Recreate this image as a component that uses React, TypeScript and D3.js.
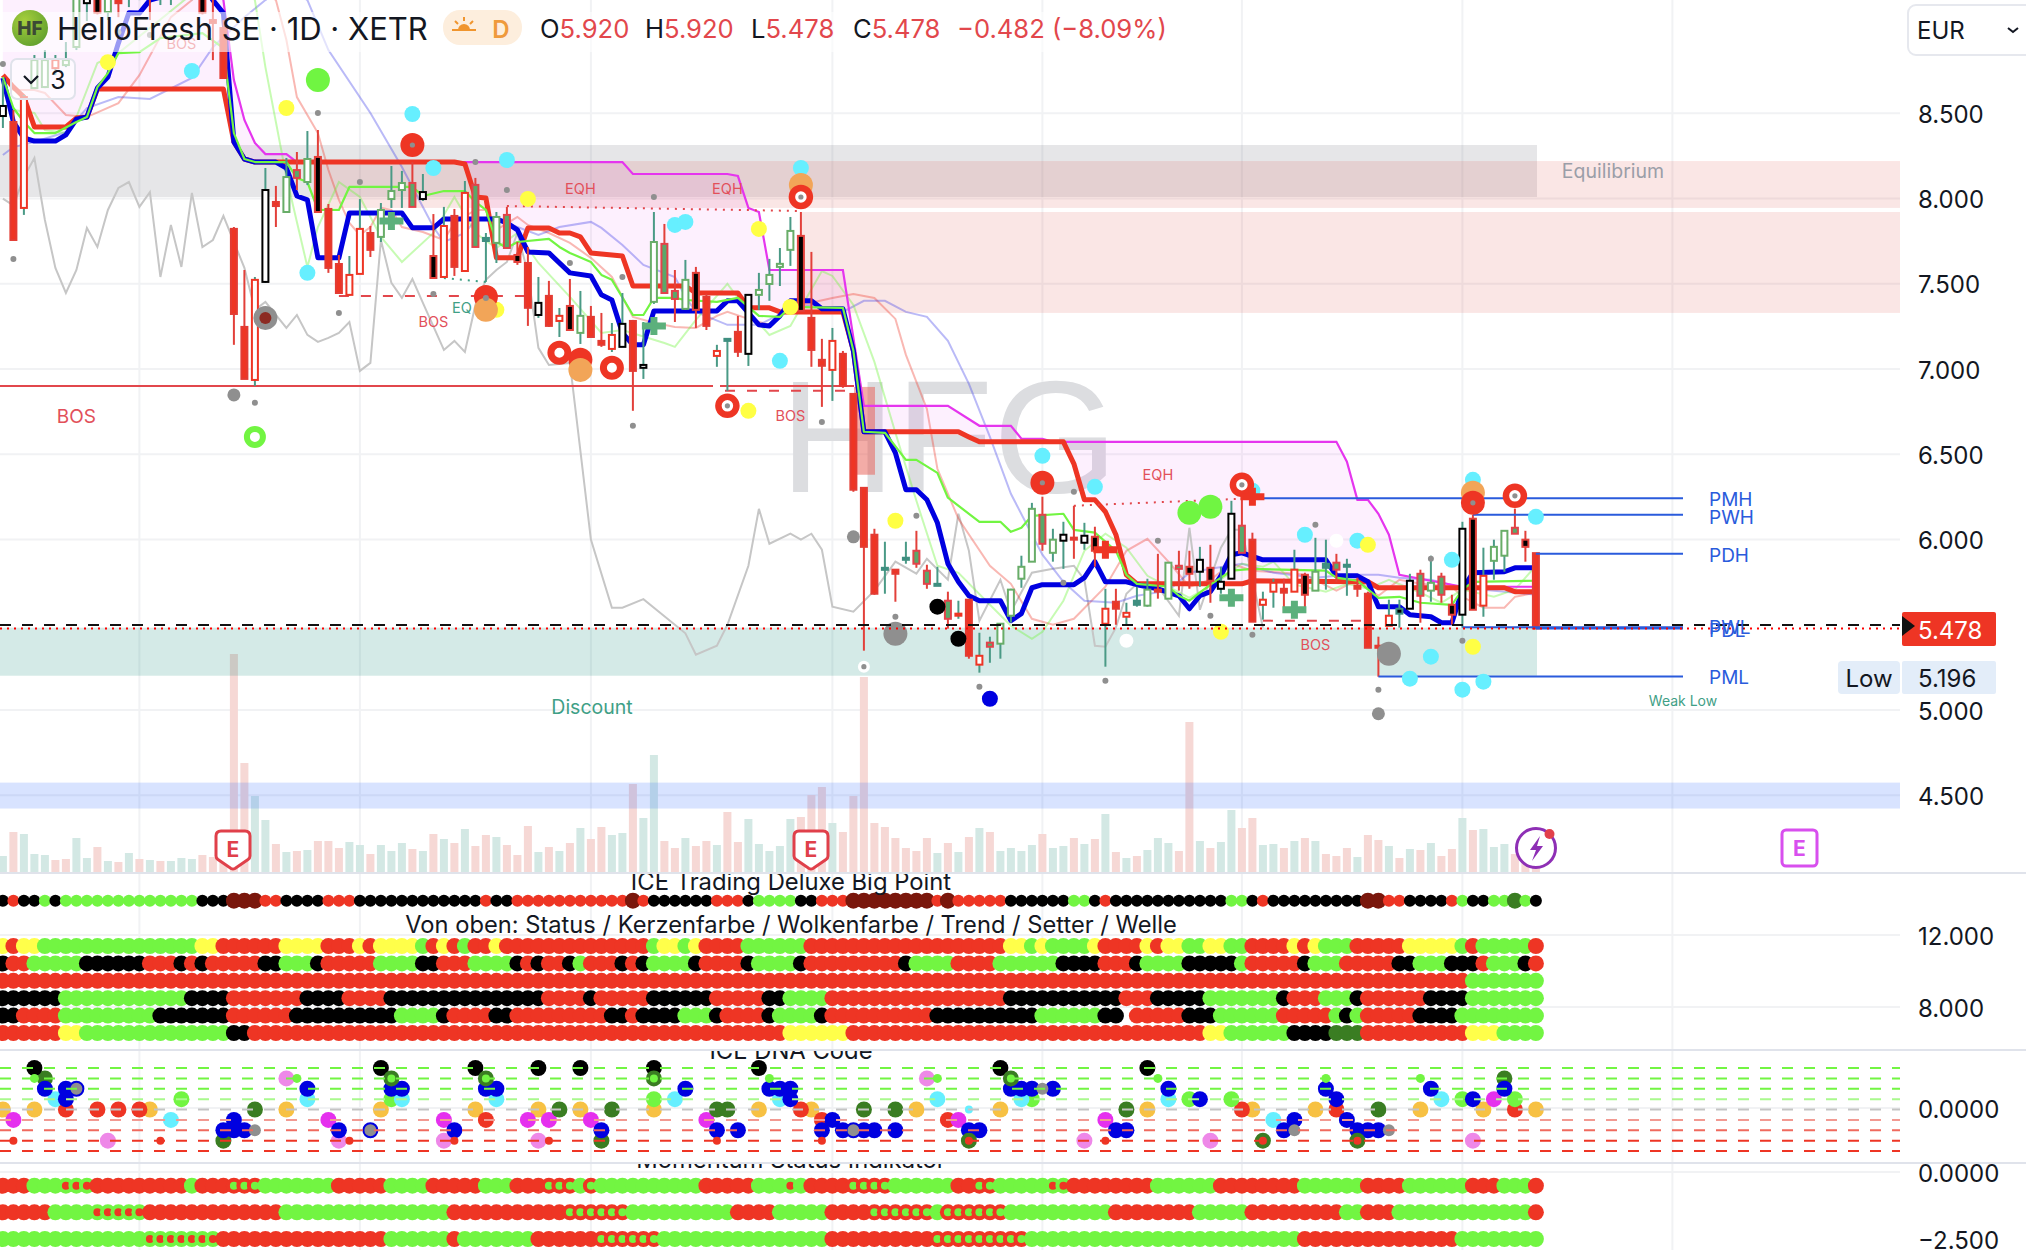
import React from "react";
import * as d3 from "d3";

// ---------- price candles ----------
const candleKinds =
  "wrhgghggwk" + "grghGgwhgk" + "rrrrhwrgGg" + "krrhhrgggG" + "wkhrhGtgGk" +
  "rwrhkgrrhw" + "rwgGGgkrht" + "rwggggkrrh" + "rrrrtrtGGt" + "GxrhyggggG" +
  "gwrwkhrhtg" + "rgGkwkwwGr" + "hhrhkgtGtr" + "rrhbwGgGkw" + "khggGkr";
const highs = [
  8.695,8.519,8.607,8.842,8.871,8.842,8.918,9.28,9.28,9.28,
  9.28,9.28,9.34,9.34,9.34,9.34,9.34,9.34,9.34,9.28,
  9.22,9.047,7.833,7.581,7.54,8.179,8.074,8.238,8.273,8.396,
  8.402,7.968,7.669,7.663,7.997,7.839,7.974,8.191,8.162,8.214,
  8.144,7.909,7.951,7.939,8.103,8.121,7.798,7.921,7.951,7.745,
  7.716,7.54,7.517,7.358,7.528,7.458,7.37,7.329,7.27,7.446,
  7.288,7.276,7.921,7.851,7.581,7.64,7.599,7.441,7.142,7.171,
  7.312,7.435,7.564,7.646,7.71,7.892,7.921,7.687,7.177,7.241,
  7.106,6.854,6.303,6.063,5.987,5.823,5.987,6.051,5.852,5.84,
  5.694,5.641,5.647,5.453,5.43,5.506,5.711,5.905,6.215,6.251,
  6.063,6.104,6.198,6.098,6.075,5.711,5.711,5.629,5.723,5.77,
  5.916,5.864,5.934,5.934,5.957,5.969,5.84,6.227,6.245,6.04,
  5.694,5.77,5.77,5.94,5.805,6.01,5.999,5.916,5.887,5.776,
  5.694,5.43,5.647,5.647,5.799,5.823,5.905,5.805,5.676,6.104,
  6.145,5.952,5.999,6.051,6.181,6.051,5.92,
];
const bodyTops = [
  8.543,8.449,8.595,8.812,8.812,8.812,8.812,9.25,9.193,9.22,
  9.22,9.22,9.28,9.28,9.28,9.28,9.28,9.28,9.28,9.22,
  9.047,9.0,7.822,7.247,7.523,8.05,7.98,8.126,8.167,8.232,
  8.244,7.939,7.616,7.552,7.822,7.798,7.933,8.044,8.091,8.091,
  8.038,7.663,7.839,7.898,8.033,8.08,7.769,7.892,7.904,7.669,
  7.622,7.388,7.429,7.312,7.37,7.312,7.306,7.165,7.2,7.265,
  7.282,7.024,7.745,7.734,7.458,7.523,7.564,7.423,7.106,7.177,
  7.218,7.435,7.464,7.552,7.617,7.81,7.781,7.3,7.054,7.165,
  7.089,6.854,6.303,6.028,5.834,5.823,5.893,5.934,5.817,5.74,
  5.641,5.565,5.647,5.318,5.395,5.506,5.706,5.84,6.18,6.145,
  5.999,6.028,6.011,6.022,6.016,5.594,5.635,5.57,5.641,5.706,
  5.706,5.864,5.846,5.84,5.881,5.834,5.752,6.151,6.081,5.999,
  5.647,5.746,5.711,5.823,5.793,5.811,5.858,5.864,5.852,5.729,
  5.682,5.377,5.553,5.594,5.758,5.799,5.746,5.782,5.617,6.063,
  6.122,5.787,5.957,6.051,6.069,5.999,5.92,
];
const bodyBottoms = [
  8.484,7.757,7.945,8.648,8.654,8.765,8.783,8.889,9.146,9.09,
  9.094,9.146,9.193,9.21,9.176,9.193,9.21,9.22,9.22,9.09,
  9.03,8.707,7.323,6.942,6.936,7.511,7.956,7.921,8.121,8.097,
  7.921,7.593,7.446,7.435,7.558,7.699,7.775,7.997,8.05,7.951,
  7.997,7.534,7.54,7.599,7.575,7.716,7.751,7.74,7.71,7.628,
  7.359,7.317,7.253,7.282,7.229,7.212,7.188,7.142,7.118,7.13,
  6.989,7.007,7.394,7.446,7.411,7.353,7.347,7.253,7.077,7.165,
  7.101,7.089,7.435,7.499,7.599,7.699,7.341,7.112,7.019,6.995,
  6.901,6.292,5.957,5.682,5.823,5.799,5.881,5.858,5.74,5.729,
  5.535,5.553,5.318,5.266,5.371,5.389,5.553,5.77,5.87,5.975,
  5.922,5.993,5.999,5.981,5.934,5.506,5.594,5.547,5.617,5.612,
  5.694,5.653,5.828,5.799,5.811,5.758,5.711,5.77,5.922,5.518,
  5.617,5.694,5.688,5.694,5.676,5.7,5.834,5.823,5.84,5.711,
  5.365,5.365,5.494,5.565,5.594,5.67,5.7,5.676,5.559,5.559,
  5.588,5.612,5.875,5.905,6.034,5.957,5.478,
];
const lows = [
  8.414,7.757,7.904,8.648,8.648,8.724,8.771,8.871,9.041,9.08,
  9.047,9.064,9.123,9.164,9.047,9.135,9.135,9.164,9.164,9.08,
  8.812,8.707,7.142,6.942,6.901,7.505,7.833,7.921,8.05,8.079,
  7.921,7.564,7.446,7.429,7.558,7.657,7.745,7.945,7.945,7.951,
  7.986,7.534,7.54,7.546,7.575,7.716,7.511,7.622,7.71,7.611,
  7.253,7.3,7.247,7.188,7.229,7.147,7.188,7.13,7.1,7.13,
  6.755,6.942,7.382,7.446,7.276,7.347,7.241,7.229,7.013,6.872,
  7.071,7.018,7.347,7.4,7.487,7.605,7.341,7.013,6.778,6.813,
  6.89,6.28,5.348,5.676,5.682,5.635,5.858,5.834,5.711,5.729,
  5.477,5.535,5.301,5.219,5.277,5.301,5.512,5.717,5.87,5.934,
  5.87,5.828,5.887,5.94,5.84,5.254,5.5,5.494,5.606,5.606,
  5.653,5.653,5.7,5.711,5.723,5.629,5.682,5.77,5.922,5.518,
  5.53,5.6,5.57,5.694,5.576,5.7,5.706,5.752,5.67,5.664,
  5.365,5.195,5.494,5.483,5.594,5.512,5.635,5.629,5.5,5.483,
  5.588,5.547,5.764,5.811,6.034,5.87,5.478,
];

// ---------- volume ----------
const volumes = [
  16,40,38,18,17,12,13,34,14,25, 11,10,19,13,12,11,11,14,13,17,
  15,17,218,109,76,52,28,20,21,22, 31,31,24,30,27,18,27,21,29,23,
  21,38,33,29,43,26,37,35,27,17, 46,20,25,21,29,44,33,45,37,39,
  88,54,117,31,24,34,26,31,27,60, 30,53,28,21,26,53,55,77,85,49,
  40,76,195,49,45,34,24,21,34,19, 29,20,35,44,40,21,24,21,27,38,
  24,26,34,28,33,58,20,14,16,22, 34,29,21,150,31,24,30,62,44,54,
  27,28,24,31,34,31,18,16,24,15, 37,32,26,14,23,22,29,16,23,54,
  42,43,25,28,18,14,10,
];
const volumeSides =
  "grgggrrggr" + "grgrgrgggr" + "rrrrggrgrg" + "rrrggrgggr" + "grgrgrrgrr" +
  "rgrgrgrrgg" + "rggrrgrrgr" + "rgggggrrrg" + "rrrrrrrrrg" + "rgrgrggggr" +
  "ggrgrgrgrg" + "ggrrgrggrr" + "ggrgrgrrrg" + "rrgrgrgrrg" + "rgggrrr";

// ---------- overlay lines: bar index / price pairs ----------
const blueBars = [0,1,2,3,5,6,7,8,9,10,11,12,13,14,19,20,21,22,23,24,26,27,28,29,30,32,33,38,39,41,42,47,48,49,50,52,54,56,57,58,59,60,61,62,65,68,69,70,72,73,74,75,77,78,80,81,82,84,85,86,87,88,89,90,91,92,93,95,96,97,98,99,102,103,104,105,107,108,110,112,113,114,115,116,117,118,120,126,127,129,130,131,133,134,136,137,138,139,140,143,144,146];
const blueValues = [8.707,8.449,8.355,8.337,8.337,8.373,8.466,8.478,8.648,8.713,8.912,9.09,9.088,9.164,9.25,9.164,9.088,8.332,8.232,8.214,8.214,8.179,8.015,7.992,7.652,7.652,7.915,7.915,7.828,7.828,7.88,7.88,7.857,7.816,7.687,7.681,7.564,7.546,7.435,7.405,7.212,7.142,7.142,7.341,7.341,7.341,7.4,7.4,7.259,7.253,7.312,7.4,7.4,7.353,7.353,7.107,6.632,6.632,6.508,6.292,6.292,6.233,6.098,5.858,5.752,5.67,5.641,5.641,5.524,5.565,5.717,5.735,5.735,5.776,5.87,5.752,5.752,5.735,5.711,5.67,5.594,5.67,5.694,5.787,5.911,5.922,5.881,5.881,5.787,5.787,5.752,5.606,5.606,5.559,5.547,5.512,5.512,5.706,5.805,5.811,5.834,5.834];
const redBars = [0,1,2,3,6,7,8,9,21,22,23,24,43,44,45,46,47,49,50,52,53,54,55,56,59,60,65,66,70,71,73,74,80,81,82,91,92,93,101,102,103,104,105,106,107,108,118,119,129,130,131,143,144,146];
const redValues = [8.724,8.654,8.595,8.42,8.42,8.472,8.478,8.642,8.642,8.332,8.232,8.214,8.214,8.203,8.009,8.003,7.652,7.652,7.827,7.827,7.798,7.798,7.775,7.681,7.663,7.487,7.487,7.446,7.446,7.359,7.359,7.335,7.335,7.107,6.632,6.632,6.602,6.573,6.573,6.444,6.233,6.233,6.163,6.028,5.793,5.74,5.74,5.758,5.752,5.752,5.717,5.717,5.694,5.694];
const greenBars = [0,1,2,3,5,7,8,9,10,11,13,15,19,21,22,23,24,27,28,29,30,32,33,39,40,42,44,45,46,47,48,49,52,53,54,56,57,58,60,61,62,64,65,68,70,72,74,75,80,81,82,84,86,87,89,90,93,95,96,97,98,101,102,104,106,107,108,111,112,113,115,117,119,126,127,129,131,133,135,138,139,140,146];
const greenValues = [8.713,8.531,8.449,8.384,8.384,8.449,8.478,8.654,8.736,8.853,8.859,8.941,8.97,8.883,8.384,8.232,8.214,8.214,8.121,8.097,7.933,7.933,8.068,8.068,8.015,8.044,8.044,7.98,7.933,7.745,7.71,7.745,7.763,7.716,7.681,7.628,7.552,7.523,7.317,7.317,7.417,7.417,7.405,7.394,7.417,7.312,7.306,7.364,7.359,7.107,6.632,6.626,6.467,6.467,6.391,6.245,6.104,6.104,6.045,6.069,6.139,6.151,6.057,6.04,5.934,5.793,5.74,5.723,5.67,5.641,5.735,5.817,5.828,5.817,5.776,5.758,5.658,5.664,5.629,5.617,5.706,5.752,5.758];
const magentaBars = [0,20,21,22,23,24,25,27,28,59,60,69,70,71,72,73,80,82,90,93,96,97,99,100,127,128,129,130,131,132,133,139,146];
const magentaValues = [9.4,9.4,9.164,8.695,8.461,8.326,8.261,8.261,8.214,8.214,8.144,8.144,8.132,7.945,7.921,7.581,7.581,6.784,6.784,6.667,6.667,6.591,6.591,6.573,6.573,6.456,6.233,6.233,6.151,6.028,5.793,5.723,5.723];
const paleRedBars = [0,1,3,4,6,8,11,13,16,18,21,26,27,28,30,31,32,33,34,35,36,37,38,40,42,43,45,46,47,49,50,52,54,56,58,59,60,62,64,66,68,69,71,73,74,76,79,81,83,85,86,88,89,91,94,96,98,100,102,105,107,109,111,113,115,117,119,122,124,127,129,131,133,135,138,139,141,143,144,146];
const paleRedValues = [8.713,8.636,8.636,8.619,8.49,8.478,8.56,8.724,9.064,9.164,9.4,9.164,8.93,8.595,8.384,8.167,7.992,7.857,7.786,7.833,7.945,7.933,7.833,7.804,7.757,7.857,7.933,7.933,7.816,7.892,7.845,7.798,7.74,7.652,7.54,7.423,7.306,7.271,7.247,7.241,7.312,7.335,7.294,7.259,7.312,7.376,7.417,7.44,7.417,7.294,7.083,6.766,6.415,6.122,5.846,5.74,5.535,5.5,5.535,5.723,5.934,6.004,5.87,5.723,5.764,5.858,5.817,5.805,5.793,5.7,5.764,5.67,5.764,5.74,5.723,5.664,5.6,5.6,5.664,5.688];
const paleBlueBars = [0,1,3,6,8,11,14,18,20,23,25,27,29,31,35,38,41,42,44,45,47,49,51,53,56,57,59,61,64,65,66,69,72,75,77,80,82,84,86,88,90,92,94,96,99,101,103,106,108,111,113,115,118,121,125,128,131,133,136,139,146];
const paleBlueValues = [8.255,8.302,8.332,8.39,8.531,8.595,8.584,8.707,8.888,9.064,9.164,9.25,9.164,8.871,8.502,8.185,7.833,7.745,7.798,7.874,7.874,7.833,7.786,7.833,7.863,7.828,7.728,7.611,7.54,7.423,7.335,7.259,7.259,7.353,7.376,7.335,7.4,7.4,7.335,7.306,7.165,6.913,6.602,6.268,5.911,5.752,5.641,5.629,5.67,5.7,5.805,5.828,5.858,5.805,5.776,5.793,5.793,5.776,5.764,5.717,5.676];
const paleGreenBars = [0,1,3,4,6,7,9,11,15,19,22,24,25,27,29,30,32,34,36,38,41,43,45,47,49,51,54,57,59,63,64,66,69,71,73,75,78,79,81,83,85,87,89,91,94,96,98,99,101,103,105,107,109,111,113,116,118,120,121,123,126,128,130,132,135,137,139,142,144,146];
const paleGreenValues = [8.625,8.519,8.502,8.402,8.384,8.478,8.795,8.853,9.05,9.25,9.3,9.164,8.771,8.126,7.599,7.833,8.097,8.009,7.775,7.628,7.798,8.009,7.798,7.71,7.798,7.622,7.423,7.212,7.229,7.153,7.13,7.288,7.499,7.335,7.2,7.253,7.575,7.546,7.376,7.042,6.626,6.227,5.846,5.805,5.617,5.494,5.418,5.459,5.641,5.934,6.034,5.952,5.787,5.723,5.658,5.764,5.858,5.84,5.87,5.735,5.694,5.74,5.711,5.764,5.688,5.629,5.706,5.664,5.706,5.846];
const grayBars = [0,1,2,3,4,5,6,7,8,9,10,11,12,13,14,15,16,17,18,19,20,21,23,24,25,27,28,29,30,31,32,33,34,35,36,37,38,39,40,42,43,44,45,46,47,48,49,50,51,52,54,55,56,58,59,61,63,65,66,68,69,71,72,73,75,76,77,78,79,81,83,85,87,88,90,91,92,93,95,96,98,100,102,103,104,105,106,107,108,110,112,113,114,116,117,118,120];
const grayValues = [8.0,7.96,8.126,8.238,7.874,7.593,7.446,7.581,7.827,7.716,7.933,8.062,8.097,7.951,8.038,7.54,7.845,7.599,8.033,7.716,7.757,7.898,7.593,7.347,7.394,7.241,7.317,7.2,7.159,7.183,7.212,7.276,6.989,7.036,7.757,7.505,7.417,7.528,7.388,7.112,7.165,7.1,7.376,7.523,7.581,7.628,7.798,7.564,7.124,7.024,7.036,6.52,6.0,5.6,5.6,5.65,5.55,5.45,5.325,5.377,5.5,5.846,6.18,5.975,6.034,6.0,6.034,5.94,5.606,5.577,5.7,5.87,5.8,5.887,5.764,6.151,5.934,5.524,5.764,5.577,5.805,5.828,5.846,5.764,5.377,5.371,5.483,5.682,5.74,5.723,5.553,6.069,5.588,5.952,6.057,6.057,5.483];

// ---------- chart markers: [bar, price] ----------
const grayDots = [[0,8.789],[1,7.646],[11,8.976],[14,8.959],[30,8.502],[32,7.329],[24,6.802],[34,8.097],[45,8.214],[48,8.05],[62,8.009],[41,7.44],[54,7.622],[59,7.54],[60,6.667],[78,6.69],[87,6.139],[85,5.547],[93,5.137],[102,6.28],[101,5.746],[110,5.993],[115,5.553],[119,5.442],[125,6.086],[105,5.172],[136,5.887],[139,5.406],[131,5.119]];
const grayMedium = [[22,6.848],[81,6.016],[131,4.978]];
const grayLarge = [[25,7.3],[85,5.447],[132,5.33]];
const cyanDots = [[18,8.748],[29,7.564],[39,8.496],[41,8.179],[48,8.226],[64,7.845],[65,7.863],[76,8.179],[74,7.048],[99,6.491],[104,6.309],[124,6.028],[129,5.993],[119,6.286],[138,5.881],[136,5.313],[134,5.184],[139,5.119],[141,5.166],[140,6.35],[146,6.133]];
const yellowDots = [[10,8.8],[27,8.531],[50,7.998],[47,7.347],[72,7.822],[75,7.364],[71,6.755],[85,6.11],[116,5.459],[130,5.969],[140,5.371]];
const greenBig = [[30,8.695],[113,6.157],[115,6.192]];
const whiteDots = [[127,5.993],[107,5.406]];
const blackDots = [[89,5.606],[91,5.418]];
const blueDots = [[94,5.066]];
const redBehind = [[55,7.054],[46,7.423]];
const orangeDots = [[55,6.995],[46,7.347],[76,8.079],[140,6.274]];
const redCored = [[39,8.314],[99,6.333],[140,6.215]];
const targets = [[76,8.009],[69,6.784],[118,6.321],[144,6.256]];
const redRings = [[53,7.095],[58,7.007]];
const greenPlus = [[62,7.253],[37,7.868],[117,5.658],[123,5.588]];
const redPlus = [[105,5.94],[119,6.251]];

// ---------- zones and levels ----------
const priceTicks = [8.5,8,7.5,7,6.5,6,5,4.5];
const dateBars = [13,34,56,79,99,118,139,159];
const blueLevels = [
  { name: "PMH", from: 118, price: 6.242, labelPrice: 6.236 },
  { name: "PWH", from: 140, price: 6.145, labelPrice: 6.128 },
  { name: "PDH", from: 146, price: 5.916, labelPrice: 5.906 },
  { name: "PWL", from: 139, price: 5.485, labelPrice: 5.482 },
  { name: "PDL", from: 146, price: 5.478, labelPrice: 5.464 },
  { name: "PML", from: 131, price: 5.196, labelPrice: 5.19 },
];
const bosLabels = [[7,6.72],[17,8.91],[41,7.28],[75,6.73],[125,5.383]];
const eqhLabels = [[55,8.06],[69,8.06],[110,6.38]];

// ---------- indicator rows, run-length coded: colour letter + count ----------
const bigPointRuns = "k1 r1 k2 g1 k1 g13 k3 d3 r2 k4 r3 k12 r1 k2 r11 d1 r1 k6 r3 k1 g4 k2 r3 d8 r1 d1 r5 k6 g2 k1 r1 k11 g2 k1 r1 k9 d2 r2 k4 r1 g1 k2 g2 D1 g1 k1";
const statusRuns = [
  "y1 r1 y2 g15 y2 r6 y4 r3 y1 r1 y4 g1 r1 y1 r1 g1 r2 y1 r14 g1 y2 g1 y1 r4 g6 r19 y2 g1 y1 g4 y1 r4 y1 r1 y2 g2 y2 g2 r4 y1 r1 y1 g3 r5 y5 g1 r1 g5 r1",
  "k1 r2 g5 k6 r3 k1 r1 k1 r5 k2 g3 k1 r5 g4 k2 r3 g4 k1 r1 k1 r2 k1 g1 r3 k1 r1 k1 g4 k1 r4 k1 g4 k1 r9 k1 g4 r4 g6 k4 r3 k1 g4 k5 g1 r5 k1 g3 r5 k2 g3 k3 r1 g3 k1 r1",
  "r140 g7",
  "k6 g12 k4 r7 k4 r4 k15 r4 k1 r5 k6 r5 k2 g4 r17 k11 r3 k5 g7 k1 r3 g3 k1 r6 k4 g7",
  "k2 r4 g9 k7 r6 k10 g4 k1 r4 k2 r9 k2 r1 k4 g3 k1 r4 k1 g4 k1 r10 k10 g6 k2 n1 r5 k3 g6 r5 g1 k1 g1 r5 k4 g8",
  "r6 y2 g14 k2 r51 y6 r34 y2 g6 k4 D3 r10 y3 g4",
];
const momentumRuns = [
  "r3 g3 a3 r9 g1 r3 b3 g7 r5 g4 r5 g3 r3 b3 g1 b1 g10 r5 g3 a1 g1 r4 b4 g6 r2 b2 g5 a2 r8 g6 r8 g6 r4 g6 r3 g3 r1",
  "r5 g4 a5 r13 g16 r11 b6 g10 r4 g5 r4 b6 g1 b6 g10 r8 g5 r9 g2 r3 g13 r1",
  "g14 a7 r16 g6 r1 g7 r6 b6 g16 r10 b9 g26 r15 g8",
];

// ---------- DNA code dots: [bar, level] ----------
const dnaLevels = [4,3,2,1,0,-1,-2,-3,-4];
const dnaOrange = [[0,0],[3,0],[14,0],[27,0],[36,0],[45,0],[51,0],[55,0],[62,0],[72,0],[77,0],[87,0],[95,0],[109,0],[119,0],[125,0],[135,0],[141,0],[146,0]];
const dnaMagenta = [[1,-1],[31,-1],[42,-1],[50,-1],[52,-1],[56,-1],[67,-1],[91,-1],[105,-1],[142,1]];
const dnaViolet = [[10,-3],[27,3],[32,-3],[42,-3],[51,-3],[88,3],[103,-3],[115,-3],[140,-3]];
const dnaBlack = [[3,4],[36,4],[45,4],[51,4],[55,4],[62,4],[72,4],[95,4],[109,4]];
const dnaDarkGreen = [[4,3],[21,-3],[24,0],[53,0],[57,-3],[58,0],[68,0],[69,0],[82,0],[85,0],[107,0],[131,0],[143,3]];
const dnaRinged = [[37,3],[46,3],[62,3],[96,3]];
const dnaRingedRed = [[92,-3],[120,-3],[129,-3]];
const dnaBlue = [[4,2],[6,2],[6,1],[22,-1],[21,-2],[22,-2],[23,-2],[29,2],[32,-2],[37,2],[38,2],[43,-2],[46,2],[47,2],[57,-2],[65,2],[68,-2],[70,-2],[73,2],[74,2],[75,2],[75,1],[79,-1],[78,-2],[80,-2],[82,-2],[83,-2],[85,-2],[92,-2],[93,-2],[96,2],[97,2],[98,2],[100,2],[106,-2],[107,-2],[111,2],[114,1],[122,-2],[123,-1],[126,2],[127,1],[128,-1],[129,-2],[130,-2],[131,-2],[136,2],[140,1],[143,2]];
const dnaCyan = [[5,1],[16,-1],[29,1],[38,1],[47,1],[64,1],[74,1],[89,1],[97,1],[111,1],[121,-1],[137,1]];
const dnaLime = [[17,1],[37,1],[62,1],[98,1],[113,1],[117,1],[139,1],[144,1]];
const dnaRed = [[6,0],[9,0],[11,0],[13,0],[46,-1],[76,0],[78,-1],[90,-1],[118,0],[127,0],[144,0]];
const dnaSmallLime = [[3,3],[28,3],[73,3],[89,3],[110,3],[126,3],[135,3]];
const dnaSmallRed = [[1,-3],[15,-3],[33,-3],[43,-3],[52,-3],[68,-3],[78,-3],[105,-3]];
const dnaGray = [[24,-2],[99,2],[123,-2],[132,-2]];
const dnaGrayRinged = [[7,2],[35,-2],[81,-2]];
const dnaSmallCyan = [[92,0]];

// ---------- colours ----------
const RED = "#ee3524";
const LIME = "#72f542";
const LABEL_RED = "#e2505a";
const TEAL_TXT = "#3fa086";
const WICK_GREEN = "#4a9a86";
const LEVEL_BLUE = "#2a5bdc";
const SANS = "Inter, 'Liberation Sans', sans-serif";
const dotColors: Record<string, string> = { r: RED, g: LIME, k: "#000", y: "#ffff4a", d: "#7a170c", D: "#3a7d22", a: LIME, b: RED };

const expand = (runs: string) =>
  runs.split(" ").flatMap((t) => Array(Number(t.slice(1))).fill(t[0]));
const zip = (bars: number[], values: number[]) => bars.map((b, i) => [b, values[i]]);

export default function App() {
  const x = d3.scaleLinear().domain([0, 146]).range([2.9, 1535.9]);
  const y = d3.scaleLinear().domain([8.5, 5]).range([113.3, 710]);
  const vol = d3.scaleLinear().domain([0, 218]).range([872, 654]);
  const dnaY = d3.scaleLinear().domain([4, -4]).range([1068, 1151]);
  const statusY = d3.scalePoint<number>().domain([0, 1, 2, 3, 4, 5]).range([946, 1033]);
  const momentumY = d3.scalePoint<number>().domain([0, 1, 2]).range([1185.7, 1239]);
  const line = d3.line<number[]>().x((d) => x(d[0])).y((d) => y(d[1]));

  const redPts = zip(redBars, redValues);
  const magPts = zip(magentaBars, magentaValues);
  const cloud = d3.line<number[]>().x((d) => x(d[0])).y((d) => y(d[1]))([...magPts, ...[...redPts].reverse()]) + "Z";

  const dots = (pts: number[][], r: number, fill: string, extra: any = {}) =>
    pts.map((p, i) => <circle key={i} cx={x(p[0])} cy={y(p[1])} r={r} fill={fill} {...extra} />);
  const dnaDots = (pts: number[][], r: number, fill: string, extra: any = {}) =>
    pts.map((p, i) => <circle key={i} cx={x(p[0])} cy={dnaY(p[1])} r={r} fill={fill} {...extra} />);
  const plus = (pts: number[][], fill: string) =>
    pts.map((p, i) => (
      <path key={i} fill={fill} d={`M${x(p[0]) - 3.5} ${y(p[1]) - 9}h7v5.5h8.5v7h-8.5v5.5h-7v-5.5h-8.5v-7h8.5z`} />
    ));
  const hRect = (top: number, bottom: number, x0: number, x1: number, fill: string) => (
    <rect x={x0} width={x1 - x0} y={y(top)} height={y(bottom) - y(top)} fill={fill} />
  );
  const shield = (cx: number) => (
    <g key={cx}>
      <path d={`M${cx - 17} 836q0 -5 5 -5h24q5 0 5 5v20q0 2 -2 3.5l-13 9q-2 1 -4 0l-13 -9q-2 -1.5 -2 -3.5z`} fill="#fff" stroke="#e0404a" strokeWidth={3} />
      <text x={cx} y={857} textAnchor="middle" fontFamily={SANS} fontWeight={700} fontSize={21} fill="#e0404a">E</text>
    </g>
  );

  return (
    <svg width={2026} height={1250} viewBox="0 0 2026 1250" style={{ position: "absolute", left: 0, top: 0, background: "#fff" }}>
      <defs>
        <clipPath id="main"><rect x={0} y={0} width={1900} height={873} /></clipPath>
        <clipPath id="p1"><rect x={0} y={874} width={1900} height={176} /></clipPath>
        <clipPath id="p2"><rect x={0} y={1051} width={1900} height={112} /></clipPath>
        <clipPath id="p3"><rect x={0} y={1164} width={1900} height={86} /></clipPath>
        <radialGradient id="logo" cx="35%" cy="30%" r="80%">
          <stop offset="0%" stopColor="#a6cf3c" />
          <stop offset="100%" stopColor="#5f9e2e" />
        </radialGradient>
      </defs>

      {/* grid */}
      {priceTicks.map((t) => <line key={t} x1={0} x2={1900} y1={y(t)} y2={y(t)} stroke="#f1f2f4" strokeWidth={2} />)}
      {dateBars.map((b) => <line key={b} x1={x(b)} x2={x(b)} y1={0} y2={1250} stroke="#f1f2f4" strokeWidth={2} />)}
      {[935, 1007, 1108, 1172].map((v) => <line key={v} x1={0} x2={1900} y1={v} y2={v} stroke="#f1f2f4" strokeWidth={2} />)}

      {/* watermark */}
      <text x={780} y={492} fontFamily="'Liberation Sans', sans-serif" fontSize={160} fill="#dcdde0">HFG</text>

      <g clipPath="url(#main)">
        {/* volume */}
        {volumes.map((v, i) => (
          <rect key={i} x={x(i) - 4} width={8} y={vol(v)} height={872 - vol(v)} fill={volumeSides[i] === "r" ? "#f6d8d5" : "#d3e8e4"} />
        ))}

        {/* zones */}
        {hRect(8.314, 8.009, 0, 1537, "rgba(120,123,134,0.19)")}
        {hRect(8.22, 7.945, 321, 1900, "rgba(222,80,70,0.14)")}
        {hRect(7.921, 7.329, 800, 1900, "rgba(222,80,70,0.14)")}
        {hRect(5.483, 5.201, 0, 1537, "rgba(0,128,110,0.17)")}
        {hRect(4.574, 4.422, 0, 1900, "rgba(41,98,255,0.18)")}
        <path d={cloud} fill="rgba(225,60,240,0.075)" />
        {hRect(6.895, 6.38, 854, 875, "rgba(232,90,80,0.5)")}

        {/* overlay lines */}
        <path d={line(zip(grayBars, grayValues))!} fill="none" stroke="#c6c6c6" strokeWidth={2} />
        <path d={line(zip(paleRedBars, paleRedValues))!} fill="none" stroke={RED} strokeOpacity={0.35} strokeWidth={2} />
        <path d={line(zip(paleBlueBars, paleBlueValues))!} fill="none" stroke="#3a3ae8" strokeOpacity={0.35} strokeWidth={2} />
        <path d={line(zip(paleGreenBars, paleGreenValues))!} fill="none" stroke={LIME} strokeOpacity={0.4} strokeWidth={2} />
        <path d={line(magPts)!} fill="none" stroke="#e535ee" strokeWidth={2.2} />
        <path d={line(redPts)!} fill="none" stroke={RED} strokeWidth={5} strokeLinejoin="round" />
        <path d={line(zip(blueBars, blueValues))!} fill="none" stroke="#0000e0" strokeWidth={5} strokeLinejoin="round" />
        <path d={line(zip(greenBars, greenValues))!} fill="none" stroke={LIME} strokeWidth={2.2} strokeLinejoin="round" />

        {/* structure lines */}
        <line x1={0} x2={713} y1={y(6.901)} y2={y(6.901)} stroke="#e2474c" strokeWidth={2} />
        <line x1={720} x2={854} y1={y(6.901)} y2={y(6.901)} stroke="#e2474c" strokeWidth={2} />
        <line x1={x(32)} x2={x(50)} y1={y(7.429)} y2={y(7.429)} stroke="#e2474c" strokeWidth={2} strokeDasharray="10 12" />
        <line x1={725} x2={854} y1={y(6.872)} y2={y(6.872)} stroke="#e2474c" strokeWidth={2} strokeDasharray="10 12" />
        <line x1={x(120)} x2={x(130)} y1={y(5.524)} y2={y(5.524)} stroke="#e2474c" strokeWidth={2} strokeDasharray="10 12" />
        <line x1={x(48)} x2={x(76)} y1={y(7.956)} y2={y(7.927)} stroke="#e2474c" strokeWidth={2} strokeDasharray="2 6" />
        <line x1={x(42)} x2={x(46)} y1={y(7.534)} y2={y(7.511)} stroke={TEAL_TXT} strokeWidth={2} strokeDasharray="2 6" />
        <line x1={x(102)} x2={x(118)} y1={y(6.198)} y2={y(6.239)} stroke="#e2474c" strokeWidth={2} strokeDasharray="2 6" />

        {/* candles */}
        {candleKinds.split("").map((k, i) => {
          const cx = x(i);
          const wick = "rGk".includes(k) ? "#e2403a" : WICK_GREEN;
          const top = y(bodyTops[i]);
          const h = Math.max(y(bodyBottoms[i]) - top, 2);
          const fill = ({ r: RED, x: RED, h: "#fff", g: "#fff", w: "#fff", G: "#5aa86a", y: "#5aa86a", k: "#000", t: "#3f8f80", b: "#000" } as any)[k];
          const stroke = ({ r: "#e33b33", x: RED, h: RED, g: "#68ad68", w: "#000", G: "#e2434a", y: "#e2434a", k: "#e2403a", t: "#3f8f80", b: "#3f8f80" } as any)[k];
          return (
            <g key={i}>
              <line x1={cx} x2={cx} y1={y(highs[i])} y2={y(lows[i])} stroke={wick} strokeWidth={2} />
              <rect x={cx - 3} width={6} y={top} height={h} fill={fill} stroke={stroke} strokeWidth={2} />
            </g>
          );
        })}

        {/* blue levels */}
        {blueLevels.map((l) => <line key={l.name} x1={x(l.from)} x2={1683} y1={y(l.price)} y2={y(l.price)} stroke={LEVEL_BLUE} strokeWidth={2} />)}

        {/* markers */}
        {dots(grayLarge, 12, "#8f8f8f")}
        <circle cx={x(25)} cy={y(7.3)} r={6} fill="#8c2a22" />
        {dots(grayMedium, 6.5, "#8f8f8f")}
        {dots(cyanDots, 8, "#66efff")}
        {dots(yellowDots, 8, "#ffff44")}
        {dots(greenBig, 12, "#70f542")}
        <circle cx={x(24)} cy={y(6.602)} r={8} fill="#fff" stroke={LIME} strokeWidth={6} />
        {dots(whiteDots, 7, "#fff")}
        {dots(blackDots, 8, "#000")}
        {dots(blueDots, 8, "#0000e0")}
        {dots(redBehind, 12, RED)}
        {dots(orangeDots, 12, "#f2a558")}
        {dots(redCored, 12, RED)}
        {dots(redRings, 8.5, "#fff", { stroke: RED, strokeWidth: 7 })}
        {dots(targets, 9, "#fff", { stroke: RED, strokeWidth: 6.5 })}
        {dots(targets, 2.6, "#8f8f8f")}
        {dots(redCored, 2.6, "#8f8f8f")}
        <circle cx={x(82)} cy={y(5.254)} r={6} fill="#fff" />
        <circle cx={x(82)} cy={y(5.254)} r={2.6} fill="#8f8f8f" />
        {dots(grayDots, 3, "#8f8f8f")}
        <circle cx={x(46)} cy={y(7.417)} r={3} fill="#8f8f8f" />
        {plus(greenPlus, "#5cb07c")}
        {plus(redPlus, RED)}

        {/* price lines */}
        <line x1={0} x2={1900} y1={y(5.498)} y2={y(5.498)} stroke="#111" strokeWidth={2} strokeDasharray="11 11" />
        <line x1={0} x2={1900} y1={y(5.478)} y2={y(5.478)} stroke="#f00" strokeWidth={2} strokeDasharray="2 5" />

        {/* labels */}
        {bosLabels.map((l, i) => (
          <text key={i} x={x(l[0])} y={y(l[1])} textAnchor="middle" dominantBaseline="central" fontFamily={SANS} fontSize={i === 0 ? 19 : 14.5} fill={LABEL_RED}>BOS</text>
        ))}
        {eqhLabels.map((l, i) => (
          <text key={i} x={x(l[0])} y={y(l[1])} textAnchor="middle" dominantBaseline="central" fontFamily={SANS} fontSize={14.5} fill={LABEL_RED}>EQH</text>
        ))}
        <text x={452} y={307} dominantBaseline="central" fontFamily={SANS} fontSize={14.5} fill={TEAL_TXT}>EQ</text>
        <text x={592} y={707} textAnchor="middle" dominantBaseline="central" fontFamily={SANS} fontSize={19.5} fill={TEAL_TXT}>Discount</text>
        <text x={1683} y={700} textAnchor="middle" dominantBaseline="central" fontFamily={SANS} fontSize={14} fill={TEAL_TXT}>Weak Low</text>
        <text x={1613} y={171} textAnchor="middle" dominantBaseline="central" fontFamily={SANS} fontSize={19.5} fill="#9a9ea8">Equilibrium</text>
        {blueLevels.map((l) => (
          <text key={l.name} x={1709} y={y(l.labelPrice)} dominantBaseline="central" fontFamily={SANS} fontSize={19} fill={LEVEL_BLUE}>{l.name}</text>
        ))}
      </g>

      {/* events */}
      {shield(233)}
      {shield(811)}
      <rect x={1782} y={830} width={35} height={36} rx={4} fill="#fff" stroke="#d84fee" strokeWidth={3} />
      <text x={1799.5} y={856} textAnchor="middle" fontFamily={SANS} fontWeight={700} fontSize={21} fill="#d84fee">E</text>
      <circle cx={1536} cy={848} r={19.5} fill="#fff" stroke="#8e2fb5" strokeWidth={3} />
      <path d="M1540 836l-10 14h6l-4 11l11 -15h-6z" fill="#8e2fb5" />
      <circle cx={1549.5} cy={834} r={5} fill="#e2404a" />

      {/* panel separators */}
      {[873, 1050, 1163].map((v) => <line key={v} x1={0} x2={2026} y1={v} y2={v} stroke="#e0e3eb" strokeWidth={2} />)}

      {/* Big point */}
      <g clipPath="url(#p1)">
        {expand(bigPointRuns).map((c, i) => (
          <circle key={i} cx={x(i)} cy={900.7} r={c === "d" || c === "D" ? 8 : 6} fill={dotColors[c]} />
        ))}
        <text x={791} y={890} textAnchor="middle" fontFamily={SANS} fontSize={23.8} fill="#131722">ICE Trading Deluxe Big Point</text>
        <text x={791} y={933} textAnchor="middle" fontFamily={SANS} fontSize={23.7} fill="#131722">Von oben: Status / Kerzenfarbe / Wolkenfarbe / Trend / Setter / Welle</text>
        {statusRuns.map((r, row) =>
          expand(r).map((c, i) => c === "n" ? null : (
            <circle key={`${row}-${i}`} cx={x(i)} cy={statusY(row)} r={8} fill={dotColors[c]} />
          ))
        )}
      </g>

      {/* DNA */}
      <g clipPath="url(#p2)">
        <text x={791} y={1059} textAnchor="middle" fontFamily={SANS} fontSize={23.8} fill="#131722">ICE DNA Code</text>
        {dnaDots(dnaOrange, 8, "#f7c143")}
        {dnaDots(dnaRed, 8, RED)}
        {dnaDots(dnaMagenta, 8, "#e530ee")}
        {dnaDots(dnaViolet, 8, "#ee88e8")}
        {dnaDots(dnaLime, 8, LIME)}
        {dnaDots(dnaCyan, 8, "#66efff")}
        {dnaDots(dnaDarkGreen, 8, "#3a7d22")}
        {dnaDots(dnaBlue, 8, "#0000e0")}
        {dnaDots(dnaBlack, 8, "#000")}
        {dnaDots(dnaRinged, 8, "#3a7d22")}
        {dnaDots(dnaRinged, 4, LIME)}
        {dnaDots(dnaRingedRed, 8, "#3a7d22")}
        {dnaDots(dnaRingedRed, 4, RED)}
        {dnaDots(dnaSmallLime, 4.5, LIME)}
        {dnaDots(dnaSmallRed, 4, RED)}
        {dnaDots(dnaSmallCyan, 4, "#66efff")}
        {dnaDots(dnaGrayRinged, 7, "#8f8f8f", { stroke: "#0000e0", strokeWidth: 2 })}
        {dnaDots(dnaGray, 6, "#8f8f8f")}
        {dnaLevels.map((l) => {
          const color = l > 1 ? LIME : l === 1 ? "#a9f98d" : l === 0 ? "#c4c4c4" : l === -1 ? "#f29a92" : l === -2 ? "#f06a5e" : RED;
          return <line key={l} x1={0} x2={1900} y1={dnaY(l)} y2={dnaY(l)} stroke={color} strokeWidth={2} strokeDasharray="11 11" />;
        })}
      </g>

      {/* Momentum */}
      <g clipPath="url(#p3)">
        <text x={791} y={1168} textAnchor="middle" fontFamily={SANS} fontSize={23.8} fill="#131722">Momentum Status Indikator</text>
        {momentumRuns.map((r, row) =>
          expand(r).map((c, i) => (
            <g key={`${row}-${i}`}>
              <circle cx={x(i)} cy={momentumY(row)} r={8} fill={dotColors[c]} />
              {c === "a" && <circle cx={x(i)} cy={momentumY(row)} r={4} fill={RED} />}
              {c === "b" && <circle cx={x(i)} cy={momentumY(row)} r={4} fill={LIME} />}
            </g>
          ))
        )}
      </g>

      {/* header haze and title */}
      <rect x={0} y={12} width={1180} height={40} fill="#fff" fillOpacity={0.6} />
      <circle cx={30} cy={28} r={18} fill="url(#logo)" />
      <text x={30} y={35} textAnchor="middle" fontFamily={SANS} fontWeight={800} fontSize={19} fill="#3c4a35">HF</text>
      <text x={57} y={40} fontFamily={SANS} fontSize={31} fill="#131722">HelloFresh SE · 1D · XETR</text>
      <rect x={443} y={10} width={79} height={35} rx={17} fill="#fdeedd" />
      <circle cx={464} cy={30} r={6} fill="#f0952e" />
      <rect x={455} y={30} width={18} height={8} fill="#fdeedd" />
      <line x1={452} x2={476} y1={30} y2={30} stroke="#f0952e" strokeWidth={2} />
      <path d="M464 17v4M455 21l3 3M473 21l-3 3" stroke="#f0952e" strokeWidth={2} fill="none" />
      <text x={501} y={38} textAnchor="middle" fontFamily={SANS} fontWeight={600} fontSize={24} fill="#ef9a3c">D</text>
      {[["O", "5.920", 540], ["H", "5.920", 645], ["L", "5.478", 751], ["C", "5.478", 853]].map(([a, b, px]) => (
        <text key={a as string} x={px as number} y={38} fontFamily={SANS} fontSize={25.6} fill="#131722">
          {a}<tspan fill="#e2474c">{b}</tspan>
        </text>
      ))}
      <text x={957} y={38} fontFamily={SANS} fontSize={25.6} fill="#e2474c">−0.482 (−8.09%)</text>

      {/* legend chip */}
      <rect x={11} y={59} width={64} height={40} rx={6} fill="#fff" fillOpacity={0.6} stroke="#e0e3eb" strokeWidth={2} />
      <path d="M24 76l7 7l7 -7" fill="none" stroke="#131722" strokeWidth={2.2} />
      <text x={58} y={89} textAnchor="middle" fontFamily={SANS} fontSize={25} fill="#131722">3</text>

      {/* right axis */}
      {priceTicks.map((t) => (
        <text key={t} x={1918} y={y(t) + 1} dominantBaseline="central" fontFamily={SANS} fontSize={24} fill="#131722">{d3.format(".3f")(t)}</text>
      ))}
      {[["12.000", 936], ["8.000", 1008], ["0.0000", 1109], ["0.0000", 1173], ["−2.500", 1240]].map(([s, v], i) => (
        <text key={i} x={1918} y={v as number} dominantBaseline="central" fontFamily={SANS} fontSize={24} fill="#131722">{s}</text>
      ))}
      <rect x={1908} y={5} width={130} height={50} rx={8} fill="#fff" stroke="#e6e8ee" strokeWidth={2} />
      <text x={1917} y={39} fontFamily={SANS} fontSize={24} fill="#131722">EUR</text>
      <path d="M2008 28l5 4l5 -4" fill="none" stroke="#131722" strokeWidth={2} />
      <rect x={1902} y={612} width={94} height={34} rx={2} fill={RED} />
      <path d="M1902 616l13 10l-13 10z" fill="#111" />
      <text x={1918} y={630} dominantBaseline="central" fontFamily={SANS} fontSize={24} fill="#fff">5.478</text>
      <rect x={1838} y={661} width={62} height={33} rx={4} fill="#e3edf9" />
      <rect x={1902} y={661} width={94} height={33} rx={2} fill="#e3edf9" />
      <text x={1869} y={678} textAnchor="middle" dominantBaseline="central" fontFamily={SANS} fontSize={24} fill="#131722">Low</text>
      <text x={1918} y={678} dominantBaseline="central" fontFamily={SANS} fontSize={24} fill="#131722">5.196</text>
    </svg>
  );
}
